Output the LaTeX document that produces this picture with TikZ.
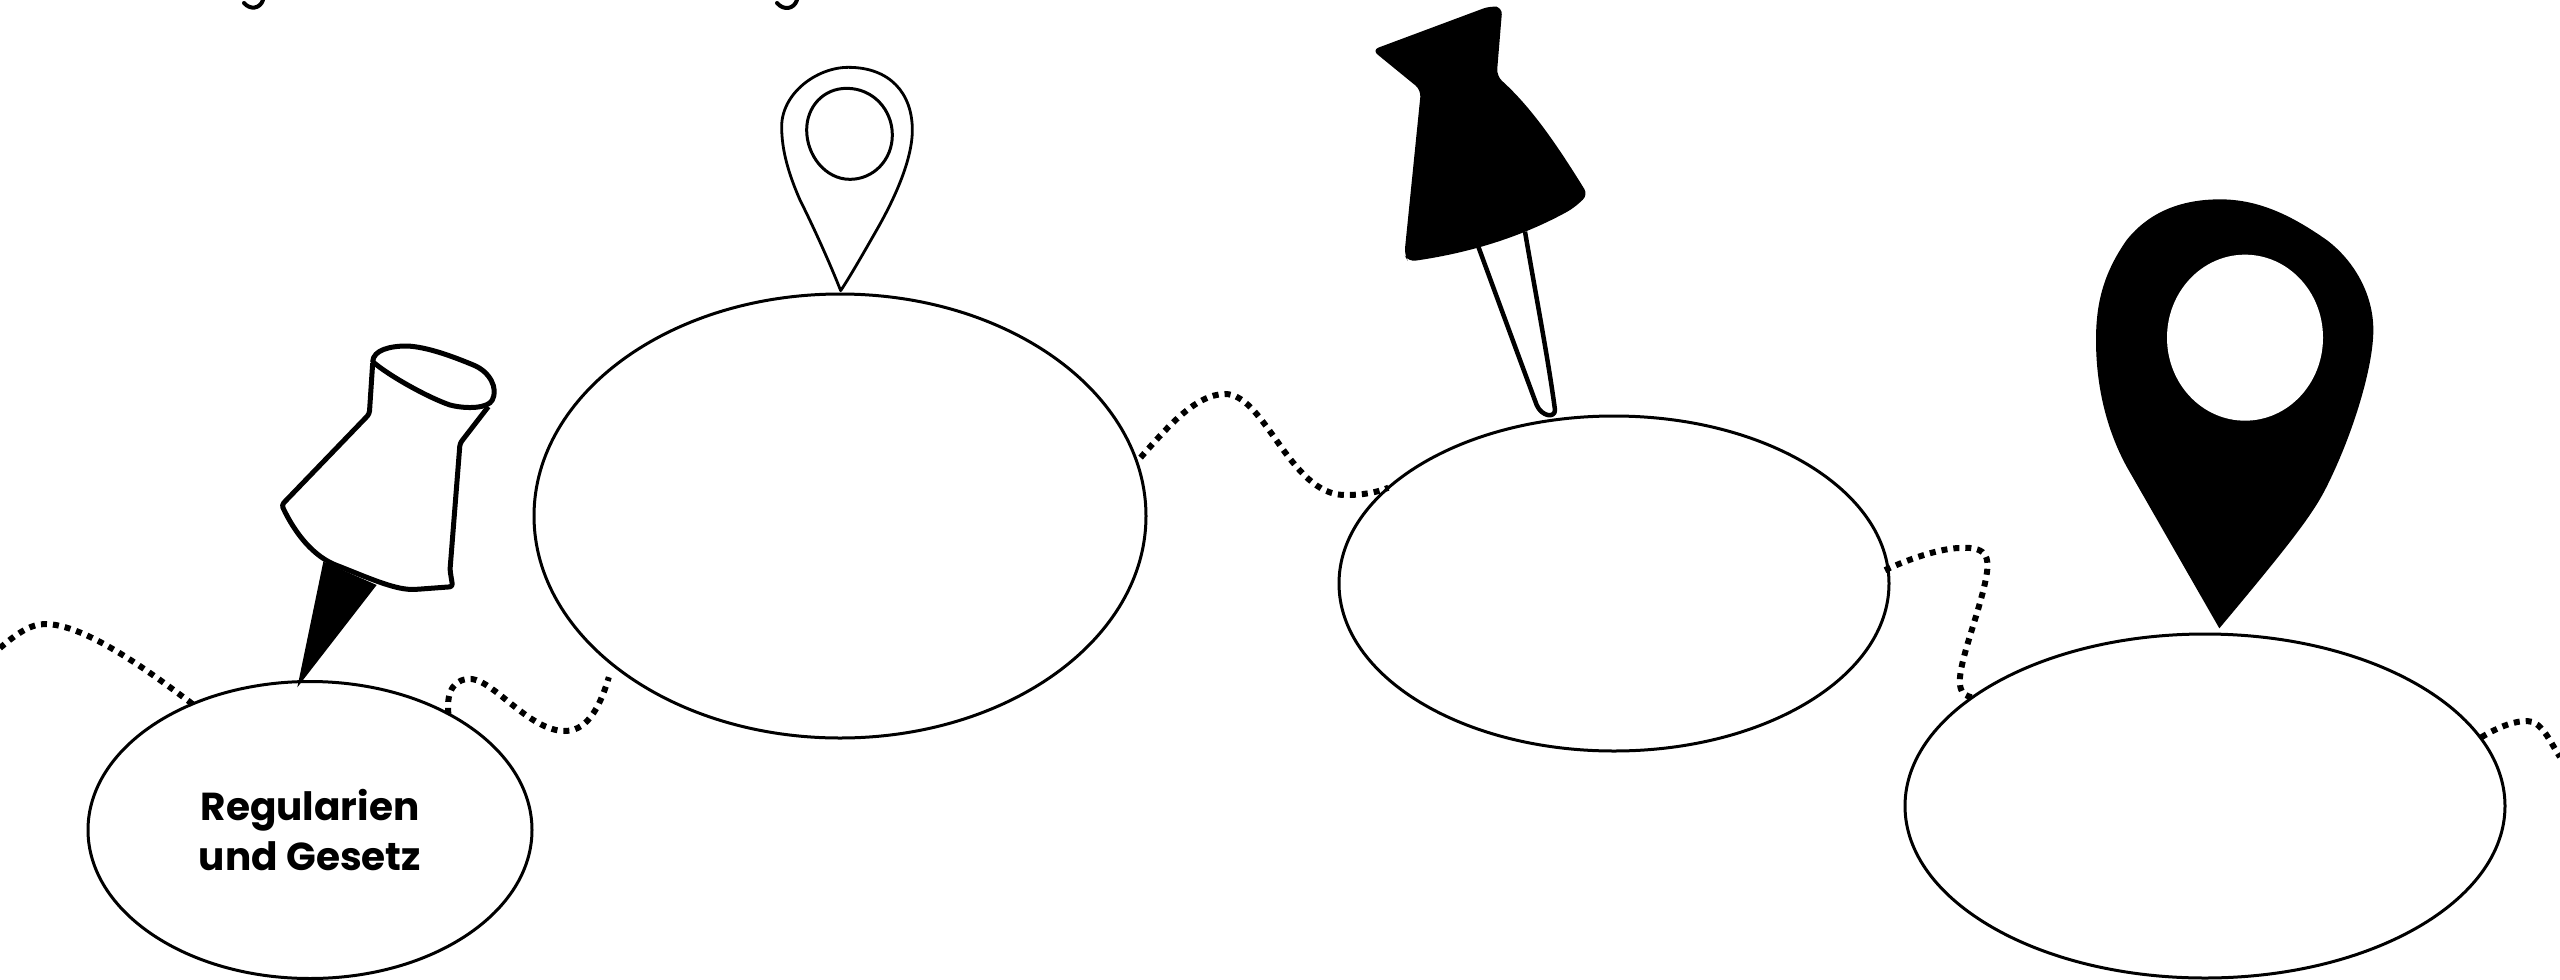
\documentclass[tikz,border=0pt]{standalone}
\usepackage{fontspec}
\setmainfont{Poppins}
\usetikzlibrary{shapes.geometric}
\tikzset{
  stationshape/.style={draw=black,line width=3pt,fill=white,ellipse,inner sep=0pt,outer sep=0pt,align=center,
    font=\fontsize{39}{50}\selectfont\bfseries},
  dotline/.style={draw=black,line width=6pt,dash pattern=on 6pt off 6pt},
  pinzoom/.style={x=0.33333pt,y=-0.33333pt},
  thinpin/.style={draw=black,line width=2.8pt,fill=white},
  thickpin/.style={draw=black,line width=5pt,fill=white,line join=round,rounded corners=3pt},
  solidpin/.style={fill=black,draw=none},
  fragment/.style={draw=black,line width=4pt,line cap=round}
}
\begin{document}
\begin{tikzpicture}[x=1pt,y=-1pt]
\useasboundingbox (0,0) rectangle (2560,980);
\fill[white] (0,0) rectangle (2560,980);

% ellipses
\node[stationshape,minimum width=444pt,minimum height=297pt] (e1) at (310,830) {Regularien\\und Gesetz};
\node[stationshape,minimum width=612pt,minimum height=444pt] (e2) at (840,516) {};
\node[stationshape,minimum width=550pt,minimum height=335pt] (e3) at (1614,583.5) {};
\node[stationshape,minimum width=600pt,minimum height=344pt] (e4) at (2205,806) {};

\coordinate (leftend) at (0,648);
\coordinate (rightend) at (2560,757);

% dotted connectors
\draw[dotline] (leftend) .. controls (15,635) and (30,624) .. (45,624) .. controls (85,624) and (150,672) .. (e1.133.4);
\draw[dotline] (e1.40.3) .. controls (446,690) and (455,678) .. (472,679) .. controls (495,682) and (530,731) .. (565,731) .. controls (590,731) and (602,700) .. ([shift={(-11,7)}]e2.215.2);
\draw[dotline] ([shift={(5,-1)}]e2.11) .. controls (1165,430) and (1195,394) .. (1225,394) .. controls (1265,394) and (1290,495) .. (1345,495) .. controls (1362,495) and (1375,493) .. (e3.157.2);
\draw[dotline] ([shift={(-3,1)}]e3.3.25) .. controls (1915,556) and (1945,548) .. (1960,548) .. controls (1990,546) and (1990,560) .. (1985,583) .. controls (1978,615) and (1962,655) .. (1960,677) .. controls (1959,690) and (1962,695) .. (e4.155.8);
\draw[dotline] ([shift={(1,0)}]e4.14.5) .. controls (2500,726) and (2515,721) .. (2527,721) .. controls (2542,721) and (2550,742) .. (rightend);

% clipped descender fragments at the top edge
\draw[fragment] (244,3) .. controls (250,10) and (260,9) .. (263,0);
\draw[fragment] (777,3) .. controls (784,11) and (794,9) .. (797,0);

% pin 1: white push pin with black spike
\begin{scope}[shift={(240,320)},pinzoom]
  \fill[solidpin] (250,725) -- (172,1102) -- (410,795) -- cycle;
  \draw[thickpin] (398,130) -- (388,282) -- (125,555) .. controls (165,640) and (220,710) .. (300,740) .. controls (400,780) and (470,810) .. (530,808) -- (638,800) -- (630,750) -- (660,370) -- (745,260);
  \draw[thickpin,rounded corners=0pt] (398,125) .. controls (400,90) and (450,78) .. (500,78) .. controls (560,80) and (640,110) .. (700,135) .. controls (750,155) and (775,205) .. (757,240) .. controls (745,265) and (680,268) .. (630,255) .. controls (570,235) and (450,170) .. (398,125) -- cycle;
\end{scope}

% pin 2: outlined marker
\begin{scope}[shift={(750,50)},pinzoom]
  \draw[thinpin,line join=round] (272,722) .. controls (240,640) and (190,530) .. (150,450) .. controls (115,370) and (95,300) .. (95,230) .. controls (95,130) and (200,52) .. (295,52) .. controls (420,52) and (487,130) .. (487,240) .. controls (487,340) and (420,470) .. (380,540) .. controls (340,610) and (300,680) .. (272,722) -- cycle;
  \draw[thinpin,line width=3pt] (170,240) .. controls (170,170) and (220,115) .. (290,115) .. controls (370,115) and (427,180) .. (427,255) .. controls (427,330) and (370,388) .. (300,388) .. controls (225,388) and (170,315) .. (170,240) -- cycle;
\end{scope}

% pin 3: black push pin with outlined needle
\begin{scope}[shift={(1340,0)},pinzoom]
  \draw[draw=black,line width=4.5pt,fill=white,line join=round] (415,740) .. controls (470,890) and (540,1080) .. (590,1215) .. controls (605,1250) and (645,1255) .. (645,1230) .. controls (625,1080) and (590,900) .. (555,695);
  \fill[solidpin,rounded corners=7pt] (96,150) -- (450,18) -- (487,22) -- (470,228) .. controls (560,310) and (630,400) .. (744,585) -- (700,625) .. controls (600,680) and (450,750) .. (205,785) -- (193,765) -- (243,270) -- cycle;
\end{scope}

% pin 4: black marker with white hole
\begin{scope}[shift={(2060,180)},pinzoom]
  \fill[solidpin] (478,1345) -- (200,860) .. controls (140,750) and (108,620) .. (108,480) .. controls (108,370) and (130,280) .. (200,180) .. controls (240,130) and (320,58) .. (480,58) .. controls (600,58) and (700,110) .. (800,180) .. controls (880,240) and (940,340) .. (940,450) .. controls (940,560) and (880,760) .. (800,920) .. controls (760,1000) and (700,1080) .. (478,1345) -- cycle;
  \fill[white] (555,473) ellipse [x radius=234,y radius=249];
\end{scope}
\end{tikzpicture}
\end{document}
